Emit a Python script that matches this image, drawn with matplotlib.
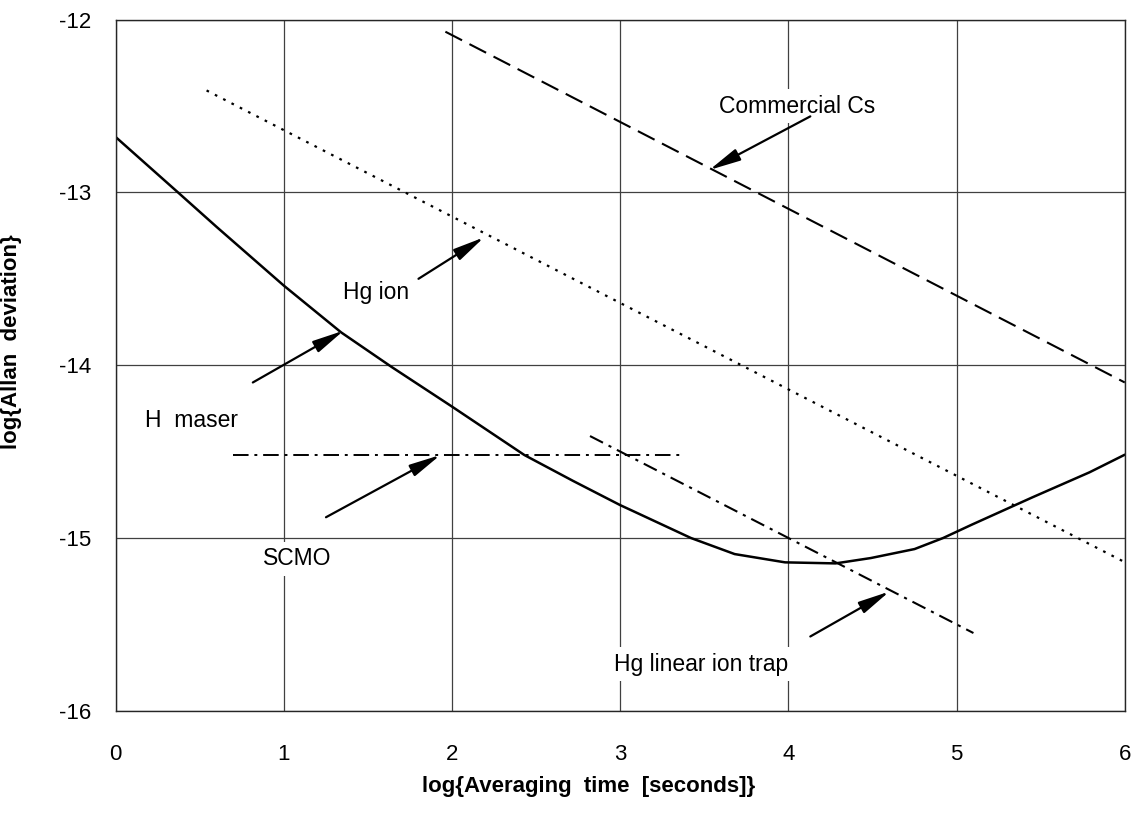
import matplotlib.pyplot as plt

plt.rcParams['axes.unicode_minus'] = False

# values (log10 tau, log10 sigma)
maser_x = [0.0, 0.37, 0.60, 1.0, 1.34, 1.64, 2.0, 2.43, 2.72, 3.0, 3.08, 3.42, 3.68, 3.98,
           4.28, 4.49, 4.75, 4.92, 5.09, 5.45, 5.79, 6.0]
maser_y = [-12.68, -13.0, -13.20, -13.54, -13.81, -14.01, -14.24, -14.52, -14.67, -14.81, -14.846,
           -15.0, -15.093, -15.141, -15.147, -15.116, -15.064, -15.0, -14.923, -14.765, -14.62, -14.518]

cs_x = [1.96, 6.0]
cs_y = [-12.07, -14.10]

hgion_x = [0.54, 6.0]
hgion_y = [-12.41, -15.14]

scmo_x = [0.70, 3.38]
scmo_y = [-14.52, -14.52]

lit_x = [2.82, 5.10]
lit_y = [-14.41, -15.55]

# label text, text pos, arrow tail, arrow head
notes = [
    ("Commercial Cs", (4.05, -12.50), (4.13, -12.56), (3.53, -12.87)),
    ("Hg ion", (1.55, -13.58), (1.80, -13.50), (2.19, -13.26)),
    ("H  maser", (0.45, -14.32), (0.815, -14.10), (1.355, -13.80)),
    ("SCMO", (1.08, -15.12), (1.25, -14.88), (1.93, -14.52)),
    ("Hg linear ion trap", (3.48, -15.73), (4.13, -15.57), (4.60, -15.31)),
]

xticks = [0, 1, 2, 3, 4, 5, 6]
yticks = [-16, -15, -14, -13, -12]

fig = plt.figure(figsize=(11.35, 8.17), dpi=100)
ax = fig.add_axes([0.102, 0.130, 0.889, 0.846])

ax.plot(maser_x, maser_y, color='black', lw=1.8, solid_capstyle='round', solid_joinstyle='round')
ax.plot(cs_x, cs_y, color='black', lw=1.5, linestyle=(0, (9, 4)))
ax.plot(hgion_x, hgion_y, color='black', lw=1.6, linestyle=(0, (1.2, 3)))
ax.plot(scmo_x, scmo_y, color='black', lw=1.4, linestyle=(0, (8, 3, 1.5, 3)))
ax.plot(lit_x, lit_y, color='black', lw=1.5, linestyle=(0, (7, 3, 1.5, 3)))

for txt, tpos, tail, head in notes:
    ax.text(tpos[0], tpos[1], txt, ha='center', va='center', fontsize=16.5,
            family='Liberation Sans', zorder=3,
            bbox=dict(boxstyle='square,pad=0.25', fc='white', ec='none'))
    ax.annotate('', xy=head, xytext=tail, zorder=5,
                arrowprops=dict(arrowstyle='-|>,head_length=1.9,head_width=0.38',
                                color='black', lw=1.6, shrinkA=0, shrinkB=0))

ax.set_xlim(0, 6)
ax.set_ylim(-16, -12)
ax.set_xticks(xticks)
ax.set_yticks(yticks)
ax.grid(True, color='0.25', lw=0.9)
ax.tick_params(length=0, labelsize=16)
ax.tick_params(axis='x', pad=24)
ax.tick_params(axis='y', pad=18)
for lab in ax.get_xticklabels() + ax.get_yticklabels():
    lab.set_family('Liberation Sans')
for s in ax.spines.values():
    s.set_color('0.15')
    s.set_linewidth(1.0)

ax.set_xlabel('log{Averaging  time  [seconds]}', fontsize=16, fontweight='bold',
              family='Liberation Sans')
ax.set_ylabel('log{Allan  deviation}', fontsize=16, fontweight='bold',
              family='Liberation Sans')
ax.xaxis.set_label_coords(0.469, -0.095)
ax.yaxis.set_label_coords(-0.093, 0.534)

fig.savefig('out.png', dpi=100)
